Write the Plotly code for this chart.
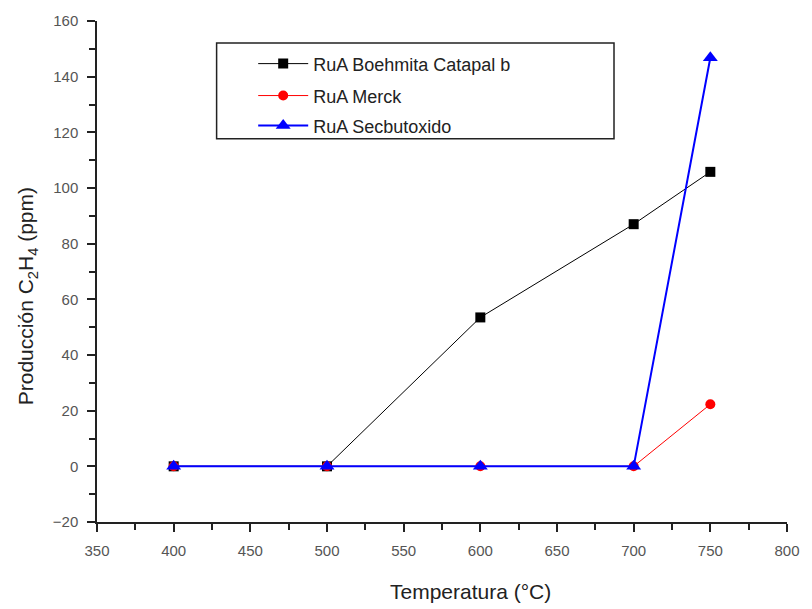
import plotly.graph_objects as go

temperatura = [400, 500, 600, 700, 750]
boehmita = [0, 0, 53.5, 87, 105.8]
merck = [0, 0, 0, 0, 22.3]
secbutoxido = [0, 0, 0, 0, 146.8]

series_names = ["RuA Boehmita Catapal b", "RuA Merck", "RuA Secbutoxido"]

# plot area in pixels (for placing the legend frame and titles)
L, R, T, B = 97, 795, 20, 522
W, H = R - L, B - T


def px_x(p):
    return (p - L) / W


def px_y(p):
    return (B - p) / H


fig = go.Figure()
fig.add_trace(go.Scatter(
    x=temperatura, y=boehmita, mode="lines+markers",
    name=series_names[0], legend="legend",
    line=dict(color="black", width=1),
    marker=dict(symbol="square", size=10, color="black"),
))
fig.add_trace(go.Scatter(
    x=temperatura, y=merck, mode="lines+markers",
    name=series_names[1], legend="legend2",
    line=dict(color="#ff0000", width=1),
    marker=dict(symbol="circle", size=10, color="#ff0000"),
))
fig.add_trace(go.Scatter(
    x=temperatura, y=secbutoxido, mode="lines+markers",
    name=series_names[2], legend="legend3",
    line=dict(color="#0000ff", width=2),
    marker=dict(symbol="triangle-up", size=13, color="#0000ff"),
))

axis_common = dict(
    showline=True, linecolor="#222222", linewidth=1.5,
    ticks="outside", ticklen=8, tickwidth=1.5, tickcolor="#222222",
    showgrid=False, zeroline=False,
    ticklabelstandoff=6,
    tickfont=dict(family="Liberation Sans, Arial", size=15, color="#555555"),
)
minor_common = dict(ticks="outside", ticklen=6, tickwidth=1.5, tickcolor="#222222", showgrid=False)

fig.update_xaxes(
    range=[350, 800], tick0=350, dtick=50,
    minor=dict(tick0=375, dtick=25, **minor_common),
    **axis_common,
)
fig.update_yaxes(
    range=[-20, 160], tick0=-20, dtick=20,
    minor=dict(tick0=-10, dtick=10, **minor_common),
    **axis_common,
)

# axis titles
fig.add_annotation(text="Temperatura (°C)", xref="paper", yref="paper",
                   x=px_x(475), y=px_y(592), xanchor="center", yanchor="middle",
                   showarrow=False,
                   font=dict(family="Liberation Sans, Arial", size=21, color="#222222"))
fig.add_annotation(text="Producción C<sub>2</sub>H<sub>4</sub> (ppm)", xref="paper", yref="paper",
                   x=px_x(27), y=px_y(296), xanchor="center", yanchor="middle",
                   textangle=-90, showarrow=False,
                   font=dict(family="Liberation Sans, Arial", size=21, color="#222222"))

# legend frame
fig.add_shape(type="rect", xref="paper", yref="paper",
              x0=px_x(218), x1=px_x(620), y0=px_y(138), y1=px_y(42),
              line=dict(color="#222222", width=1.5), fillcolor="rgba(0,0,0,0)")

legend_font = dict(family="Liberation Sans, Arial", size=18, color="#222222")
row_centers = [63, 95, 125]
legends = {}
for key, yc in zip(["legend", "legend2", "legend3"], row_centers):
    legends[key] = dict(
        x=px_x(255), y=px_y(yc), xanchor="left", yanchor="middle",
        bgcolor="rgba(0,0,0,0)", borderwidth=0, font=legend_font,
        itemwidth=50,
    )

fig.update_layout(
    width=812, height=609,
    margin=dict(l=L, r=812 - R, t=T, b=609 - B),
    paper_bgcolor="white", plot_bgcolor="white",
    showlegend=True,
    **legends,
)

fig.write_html("out.html")
